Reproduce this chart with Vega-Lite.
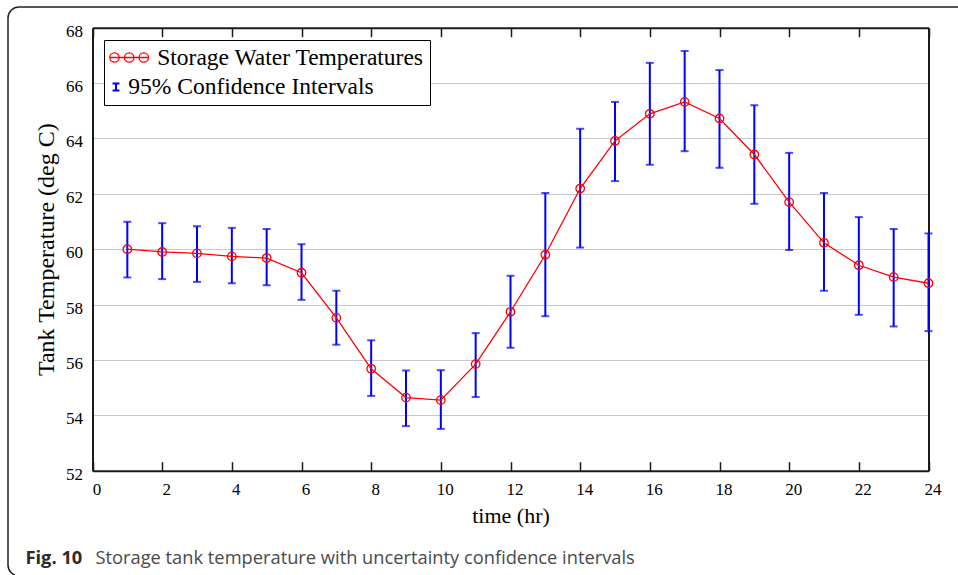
{
  "$schema": "https://vega.github.io/schema/vega-lite/v6.json",
  "width": 962,
  "height": 569,
  "autosize": "none",
  "padding": {"left": 8, "top": 7, "right": 0, "bottom": 0},
  "background": "white",
  "config": {
    "view": {"stroke": "#222222", "strokeWidth": 1.5, "cornerRadius": 11},
    "axis": {
      "labelFont": "Liberation Serif",
      "labelFontSize": 17,
      "labelColor": "#000000",
      "titleFont": "Liberation Serif",
      "titleFontSize": 22,
      "titleFontWeight": "normal",
      "titleColor": "#000000",
      "domainColor": "#1a1a1a",
      "domainWidth": 2,
      "tickColor": "#1a1a1a",
      "tickWidth": 1.5,
      "labelOverlap": false,
      "labelFlush": false
    }
  },
  "data": {
    "values": [
      {"hour": 1, "temp": 60.00, "lo": 58.98, "hi": 60.99},
      {"hour": 2, "temp": 59.90, "lo": 58.92, "hi": 60.94},
      {"hour": 3, "temp": 59.85, "lo": 58.82, "hi": 60.83},
      {"hour": 4, "temp": 59.74, "lo": 58.77, "hi": 60.77},
      {"hour": 5, "temp": 59.68, "lo": 58.70, "hi": 60.73},
      {"hour": 6, "temp": 59.15, "lo": 58.17, "hi": 60.18},
      {"hour": 7, "temp": 57.52, "lo": 56.55, "hi": 58.50},
      {"hour": 8, "temp": 55.68, "lo": 54.70, "hi": 56.71},
      {"hour": 9, "temp": 54.64, "lo": 53.61, "hi": 55.62},
      {"hour": 10, "temp": 54.55, "lo": 53.51, "hi": 55.63},
      {"hour": 11, "temp": 55.85, "lo": 54.66, "hi": 56.97},
      {"hour": 12, "temp": 57.74, "lo": 56.44, "hi": 59.04},
      {"hour": 13, "temp": 59.80, "lo": 57.58, "hi": 62.03},
      {"hour": 14, "temp": 62.19, "lo": 60.06, "hi": 64.35},
      {"hour": 15, "temp": 63.91, "lo": 62.46, "hi": 65.32},
      {"hour": 16, "temp": 64.89, "lo": 63.05, "hi": 66.73},
      {"hour": 17, "temp": 65.32, "lo": 63.54, "hi": 67.16},
      {"hour": 18, "temp": 64.72, "lo": 62.94, "hi": 66.47},
      {"hour": 19, "temp": 63.42, "lo": 61.64, "hi": 65.20},
      {"hour": 20, "temp": 61.70, "lo": 59.97, "hi": 63.48},
      {"hour": 21, "temp": 60.23, "lo": 58.50, "hi": 62.03},
      {"hour": 22, "temp": 59.42, "lo": 57.63, "hi": 61.16},
      {"hour": 23, "temp": 58.99, "lo": 57.21, "hi": 60.73},
      {"hour": 24, "temp": 58.77, "lo": 57.04, "hi": 60.57}
    ]
  },
  "layer": [
    {
      "mark": {"type": "rule", "strokeWidth": 2},
      "encoding": {
        "x": {"field": "hour", "type": "quantitative", "axis": null},
        "y": {"field": "lo", "type": "quantitative", "axis": null},
        "y2": {"field": "hi"},
        "color": {"datum": "95% Confidence Intervals", "type": "nominal"}
      }
    },
    {
      "mark": {"type": "tick", "orient": "horizontal", "color": "#0000ff", "size": 8, "thickness": 2},
      "encoding": {
        "x": {"field": "hour", "type": "quantitative", "axis": null},
        "y": {"field": "lo", "type": "quantitative", "axis": null}
      }
    },
    {
      "mark": {"type": "tick", "orient": "horizontal", "color": "#0000ff", "size": 8, "thickness": 2},
      "encoding": {
        "x": {"field": "hour", "type": "quantitative", "axis": null},
        "y": {"field": "hi", "type": "quantitative", "axis": null}
      }
    },
    {
      "mark": {"type": "line", "strokeWidth": 1.3},
      "encoding": {
        "x": {
          "field": "hour",
          "type": "quantitative",
          "scale": {"domain": [0, 24], "range": [84.5, 920.5], "nice": false, "zero": false},
          "axis": {
            "orient": "bottom",
            "offset": -105.3,
            "values": [0, 2, 4, 6, 8, 10, 12, 14, 16, 18, 20, 22, 24],
            "grid": false,
            "tickSize": -9,
            "labelPadding": 19.5,
            "labelOffset": 4,
            "title": "time (hr)",
            "titlePadding": 8
          }
        },
        "y": {
          "field": "temp",
          "type": "quantitative",
          "scale": {"domain": [52, 68], "range": [463.7, 20.7], "nice": false, "zero": false},
          "axis": {
            "orient": "left",
            "offset": -84.5,
            "values": [52, 54, 56, 58, 60, 62, 64, 66, 68],
            "grid": true,
            "gridColor": "#c8c8c8",
            "gridWidth": 1,
            "ticks": false,
            "labelPadding": 10,
            "labelOffset": 3.5,
            "title": "Tank Temperature (deg C)",
            "titleFontSize": 24,
            "titlePadding": 7
          }
        },
        "color": {
          "datum": "Storage Water Temperatures",
          "type": "nominal",
          "scale": {
            "domain": ["Storage Water Temperatures", "95% Confidence Intervals"],
            "range": ["#ff0000", "#0000ff"]
          },
          "legend": {
            "orient": "none",
            "legendX": 96,
            "legendY": 33,
            "title": null,
            "strokeColor": "#000000",
            "fillColor": "#ffffff",
            "padding": 5.75,
            "cornerRadius": 0,
            "labelFont": "Liberation Serif",
            "labelFontSize": 23.5,
            "labelColor": "#000000",
            "labelOffset": 24,
            "labelLimit": 400,
            "rowPadding": 4.5,
            "symbolSize": 1600,
            "symbolFillColor": "transparent",
            "encode": {
              "symbols": {
                "update": {
                  "shape": {"signal": "datum.value === 'Storage Water Temperatures' ? 'M-0.565,0L1.335,0M-0.115,0A0.235,0.235 0 1,1 -0.585,0A0.235,0.235 0 1,1 -0.115,0M0.62,0A0.235,0.235 0 1,1 0.15,0A0.235,0.235 0 1,1 0.62,0M1.35,0A0.235,0.235 0 1,1 0.88,0A0.235,0.235 0 1,1 1.35,0' : 'M-0.275,-0.175L-0.275,0.175M-0.45,-0.175L-0.1,-0.175M-0.45,0.175L-0.1,0.175'"},
                  "strokeWidth": {"signal": "datum.value === 'Storage Water Temperatures' ? 1.3 : 2"},
                  "fill": {"value": "transparent"}
                }
              },
              "labels": {
                "update": {
                  "dx": {"signal": "datum.value === '95% Confidence Intervals' ? -29 : 0"}
                }
              }
            }
          }
        }
      }
    },
    {
      "mark": {"type": "point", "shape": "circle", "filled": false, "color": "#ff0000", "size": 72, "strokeWidth": 1.3, "opacity": 1},
      "encoding": {
        "x": {
          "field": "hour",
          "type": "quantitative",
          "axis": {
            "orient": "top",
            "offset": -20.7,
            "values": [0, 2, 4, 6, 8, 10, 12, 14, 16, 18, 20, 22, 24],
            "grid": false,
            "labels": false,
            "tickSize": -9,
            "title": "Fig. 10",
            "titleX": 17,
            "titleY": 535.3,
            "titleAngle": 0,
            "titleAlign": "left",
            "titleBaseline": "alphabetic",
            "titleFont": "Open Sans",
            "titleFontSize": 18.3,
            "titleFontWeight": "bold",
            "titleColor": "#2b2b2b"
          }
        },
        "y": {
          "field": "temp",
          "type": "quantitative",
          "axis": {
            "orient": "right",
            "offset": -41.5,
            "grid": false,
            "labels": false,
            "ticks": false,
            "title": "Storage tank temperature with uncertainty confidence intervals",
            "titleX": -833.5,
            "titleY": 556,
            "titleAngle": 0,
            "titleAlign": "left",
            "titleBaseline": "alphabetic",
            "titleFont": "Open Sans",
            "titleFontSize": 18.3,
            "titleFontWeight": "normal",
            "titleColor": "#4a4a4a"
          }
        }
      }
    }
  ],
  "resolve": {"axis": {"x": "independent", "y": "independent"}}
}
